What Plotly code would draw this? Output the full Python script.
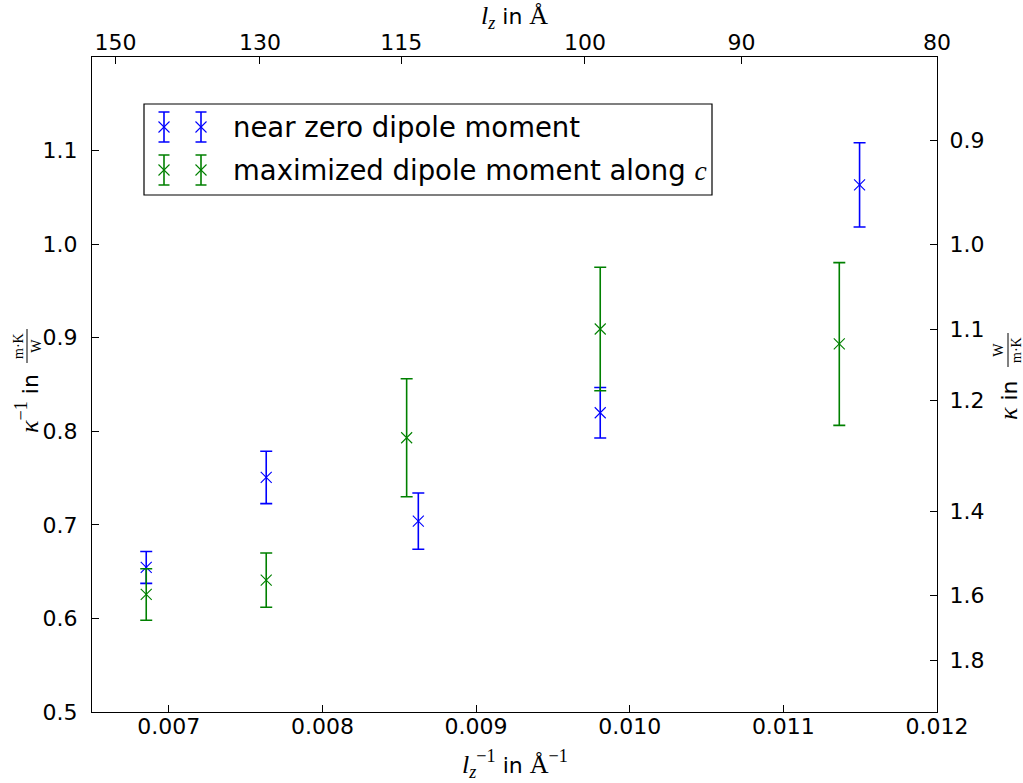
import plotly.graph_objects as go

# ---- data: inverse thickness l_z^-1 (1/Å) and inverse conductivity kappa^-1 (m·K/W) ----
x_near_zero = [0.006853, 0.007634, 0.008624, 0.009808, 0.011496]
kinv_near_zero = [0.6545, 0.7507, 0.7040, 0.8198, 1.0634]
err_near_zero = [0.017, 0.028, 0.030, 0.027, 0.045]

x_max_dipole = [0.006853, 0.007634, 0.008548, 0.009808, 0.011364]
kinv_max_dipole = [0.6256, 0.6409, 0.7931, 0.9093, 0.8933]
err_max_dipole = [0.0275, 0.029, 0.063, 0.066, 0.087]

# tick values
bottom_ticks = [0.007, 0.008, 0.009, 0.010, 0.011, 0.012]
left_ticks = [0.5, 0.6, 0.7, 0.8, 0.9, 1.0, 1.1]
lz_ticks = [150, 130, 115, 100, 90, 80]          # top axis, thickness in Å
kappa_ticks = [0.9, 1.0, 1.1, 1.2, 1.4, 1.6, 1.8]  # right axis, kappa in W/(m·K)

BLUE = "#0000ff"
GREEN = "#008000"
SANS = "DejaVu Sans"
SERIF = "Liberation Serif"

series_names = ["near zero dipole moment",
                f"maximized dipole moment along <i><span style='font-family:{SERIF}'>c</span></i>"]

W, H = 1023, 783
L, R, T, B = 92, 937, 57, 712


def xp(px):
    return (px - L) / (R - L)


def yp(py):
    return (B - py) / (B - T)


def errorbar_trace(x, y, err, color, xa="x", ya="y", cap=6):
    return go.Scatter(
        x=x, y=y, mode="markers", xaxis=xa, yaxis=ya, showlegend=False,
        cliponaxis=False, hoverinfo="skip",
        marker=dict(symbol="x-thin", size=11, color=color,
                    line=dict(width=1.1, color=color)),
        error_y=dict(type="data", array=err, visible=True, color=color,
                     thickness=1.6, width=cap),
    )


fig = go.Figure()
fig.add_trace(errorbar_trace(x_near_zero, kinv_near_zero, err_near_zero, BLUE))
fig.add_trace(errorbar_trace(x_max_dipole, kinv_max_dipole, err_max_dipole, GREEN))

# secondary axes carry only their own scale
fig.add_trace(go.Scatter(x=[None], y=[None], xaxis="x2", yaxis="y2",
                         showlegend=False, hoverinfo="skip"))

# ---- hand-built legend (two error-bar glyphs per entry) on a pixel-scaled axis ----
LEG_X0, LEG_X1, LEG_Y0, LEG_Y1 = 144, 712, 104, 195
leg_rows = [127, 170]
leg_glyph_x = [164, 201]
leg_colors = [BLUE, GREEN]
for row_y, col in zip(leg_rows, leg_colors):
    fig.add_trace(errorbar_trace(leg_glyph_x, [row_y, row_y], [15, 15], col,
                                 xa="x3", ya="y3", cap=5.5))

axis_font = dict(family=SANS, size=22, color="black")
common = dict(showgrid=False, zeroline=False, showline=True, linecolor="black",
              linewidth=1.3, ticks="inside", ticklen=7, tickwidth=1,
              tickcolor="black", tickfont=axis_font, mirror=False)

fig.update_layout(
    width=W, height=H,
    margin=dict(l=L, r=W - R, t=T, b=H - B, pad=0),
    paper_bgcolor="white", plot_bgcolor="white",
    showlegend=False,
    xaxis=dict(range=[0.0065, 0.012], tickvals=bottom_ticks,
               ticktext=[f"{v:.3f}" for v in bottom_ticks], ticklabelstandoff=-6, **common),
    xaxis2=dict(range=[0.0065, 0.0125], overlaying="x", side="top", anchor="y",
                tickvals=[1.0 / v for v in lz_ticks], ticktext=[str(v) for v in lz_ticks],
                ticklabelstandoff=-3, **common),
    yaxis=dict(range=[0.5, 1.2], tickvals=left_ticks,
               ticktext=[f"{v:.1f}" for v in left_ticks], ticklabelstandoff=9, **common),
    yaxis2=dict(range=[0.5, 1.2], overlaying="y", side="right", anchor="x",
                tickvals=[1.0 / k for k in kappa_ticks],
                ticktext=[f"{k:.1f}" for k in kappa_ticks], ticklabelstandoff=7, **common),
    xaxis3=dict(range=[L, R], overlaying="x", visible=False, anchor="y3"),
    yaxis3=dict(range=[B, T], overlaying="y", visible=False, anchor="x3"),
)

fig.add_shape(type="rect", xref="x3", yref="y3", x0=LEG_X0, x1=LEG_X1,
              y0=LEG_Y0, y1=LEG_Y1, line=dict(color="black", width=1.2),
              fillcolor="white", layer="below")

annotations = []
for row_y, name in zip(leg_rows, series_names):
    annotations.append(dict(x=xp(231), y=yp(row_y), xref="paper", yref="paper",
                            text=name, showarrow=False, xanchor="left", yanchor="middle",
                            font=dict(family=SANS, size=27.5, color="black")))


def mathspan(s, size=26):
    return f"<span style='font-family:{SERIF};font-size:{size}px'>{s}</span>"


# bottom and top axis titles
annotations.append(dict(
    x=0.5, y=yp(764), xref="paper", yref="paper", showarrow=False,
    xanchor="center", yanchor="middle",
    text=mathspan("<i>l</i><sub><i>z</i></sub><sup>−1</sup>") + " in " + mathspan("Å<sup>−1</sup>"),
    font=dict(family=SANS, size=22, color="black")))
annotations.append(dict(
    x=0.5, y=yp(17), xref="paper", yref="paper", showarrow=False,
    xanchor="center", yanchor="middle",
    text=mathspan("<i>l</i><sub><i>z</i></sub>") + " in " + mathspan("Å"),
    font=dict(family=SANS, size=22, color="black")))

# left axis title: kappa^-1 in (m·K)/W
annotations.append(dict(
    x=xp(27), y=yp(404), xref="paper", yref="paper", showarrow=False,
    xanchor="center", yanchor="middle", textangle=-90,
    text=mathspan("<i>κ</i><sup>−1</sup>") + " in",
    font=dict(family=SANS, size=22, color="black")))
annotations.append(dict(
    x=xp(27), y=yp(346), xref="paper", yref="paper", showarrow=False,
    xanchor="center", yanchor="middle", textangle=-90,
    text="m·K<br>W", font=dict(family=SERIF, size=14, color="black")))
fig.add_shape(type="line", xref="paper", yref="paper",
              x0=xp(27), x1=xp(27), y0=yp(329), y1=yp(363),
              line=dict(color="black", width=1))

# right axis title: kappa in W/(m·K)
annotations.append(dict(
    x=xp(1008), y=yp(400), xref="paper", yref="paper", showarrow=False,
    xanchor="center", yanchor="middle", textangle=-90,
    text=mathspan("<i>κ</i>") + " in",
    font=dict(family=SANS, size=22, color="black")))
annotations.append(dict(
    x=xp(1008), y=yp(350), xref="paper", yref="paper", showarrow=False,
    xanchor="center", yanchor="middle", textangle=-90,
    text="W<br>m·K", font=dict(family=SERIF, size=14, color="black")))
fig.add_shape(type="line", xref="paper", yref="paper",
              x0=xp(1008), x1=xp(1008), y0=yp(333), y1=yp(367),
              line=dict(color="black", width=1))

fig.update_layout(annotations=annotations)
fig.write_html("out.html")
